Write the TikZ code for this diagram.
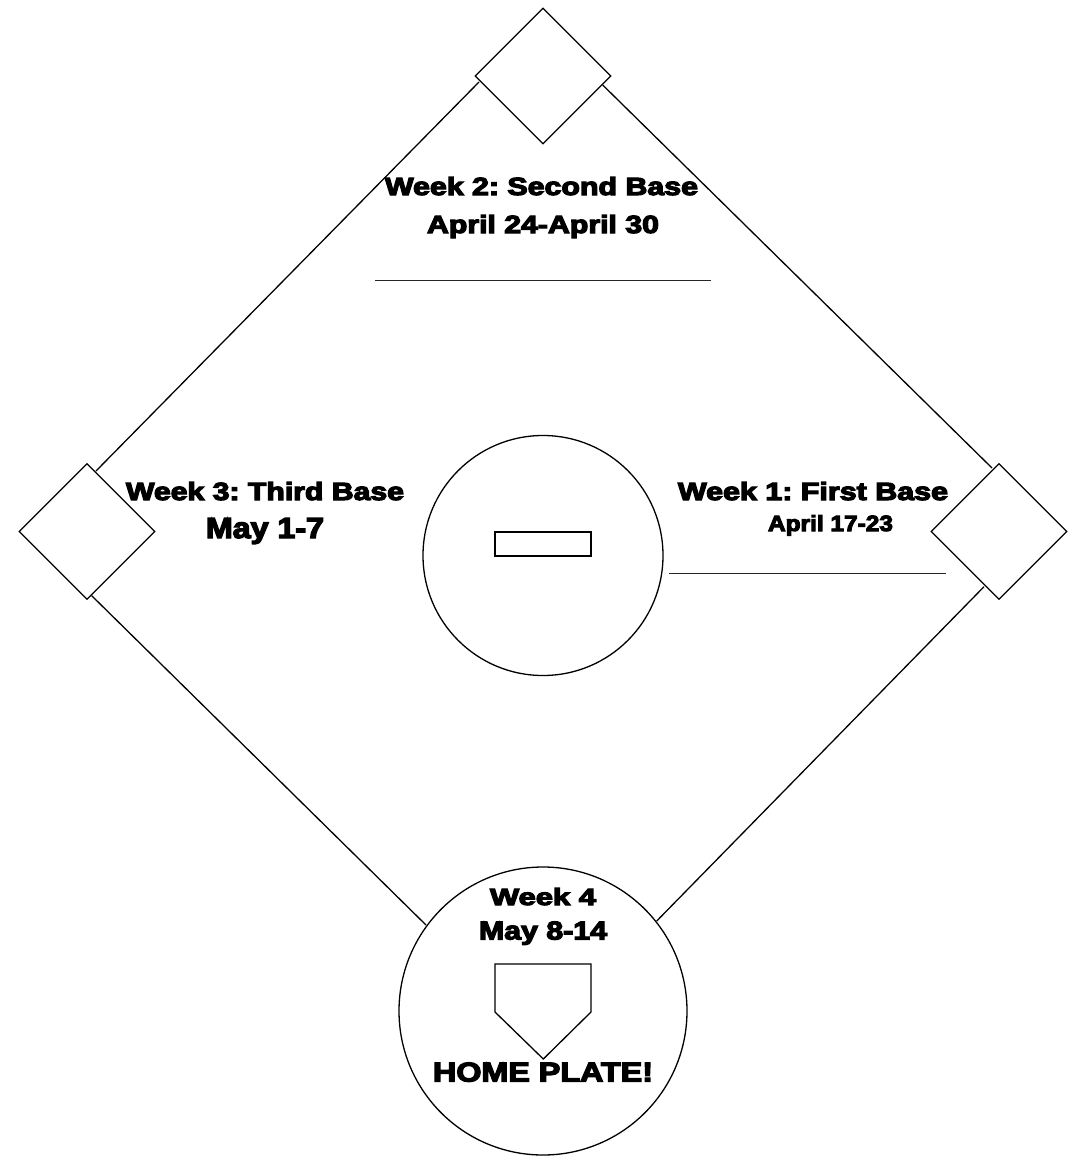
\documentclass[tikz,border=0pt]{standalone}
\usepackage{fontspec}
\newfontfamily\blk[FakeBold=4.5]{Liberation Sans Bold}
\usetikzlibrary{shapes.geometric}
\newcommand\mytxt[3]{\resizebox{#1pt}{#2pt}{#3}}
\frenchspacing
\begin{document}
\begin{tikzpicture}[x=1pt,y=-1pt,
  base/.style={diamond, draw, fill=white, line width=1.3pt, minimum width=136pt, minimum height=136pt, inner sep=0pt, aspect=1},
  field/.style={line width=1.3pt},
  ring/.style={circle, draw, fill=white, line width=1.3pt, inner sep=0pt},
  lbl/.style={inner sep=0pt, anchor=base, font=\blk},
  rule/.style={line width=1pt, draw=black!85}]
\useasboundingbox (0,0) rectangle (1075,1159);
% field line end points
\coordinate (a1) at (479,82);  \coordinate (a2) at (96,471);
\coordinate (b1) at (602.7,85); \coordinate (b2) at (992,468);
\coordinate (c1) at (91.7,595.7); \coordinate (c2) at (426,925);
\coordinate (d1) at (984,586.7); \coordinate (d2) at (656.7,921);
\draw[field] (a1) -- (a2);
\draw[field] (b1) -- (b2);
\draw[field] (c1) -- (c2);
\draw[field] (d1) -- (d2);
% bases
\node[base] (second) at (543,76) {};
\node[base] (third) at (87,531.5) {};
\node[base] (first) at (999,531.5) {};
% pitcher
\node[ring, minimum size=240pt] (mound) at (543,555.5) {};
\node[draw, line width=1.3pt, minimum width=96pt, minimum height=24pt, inner sep=0pt] (rubber) at (543,544) {};
% home
\node[ring, minimum size=288pt] (home) at (543,1011) {};
\draw[line width=1.3pt, line join=miter] (495,964) -- (591,964) -- (591,1012) -- (543.3,1059) -- (495,1012) -- cycle;
% writing lines
\coordinate (u1) at (375,280); \coordinate (u2) at (711,280);
\coordinate (u3) at (669,573); \coordinate (u4) at (946,573);
\draw[rule] (u1) -- (u2);
\draw[rule] (u3) -- (u4);
% labels
\node[lbl] (t2a) at (541.5,195) {\mytxt{313}{18}{Week 2: Second Base}};
\node[lbl] (t2b) at (543,233) {\mytxt{232}{18}{April 24-April 30}};
\node[lbl] (t3a) at (265,500) {\mytxt{278}{18}{Week 3: Third Base}};
\node[lbl] (t3b) at (265,538) {\mytxt{118}{20}{May 1-7}};
\node[lbl] (t1a) at (813,500) {\mytxt{270}{18}{Week 1: First Base}};
\node[lbl] (t1b) at (830.5,531) {\mytxt{125}{16}{April 17-23}};
\node[lbl] (t4a) at (543,905) {\mytxt{106}{17}{Week 4}};
\node[lbl] (t4b) at (543,939.5) {\mytxt{128}{18}{May 8-14}};
\node[lbl] (t4c) at (543,1081.5) {\mytxt{220}{19}{HOME PLATE!}};
\end{tikzpicture}
\end{document}
